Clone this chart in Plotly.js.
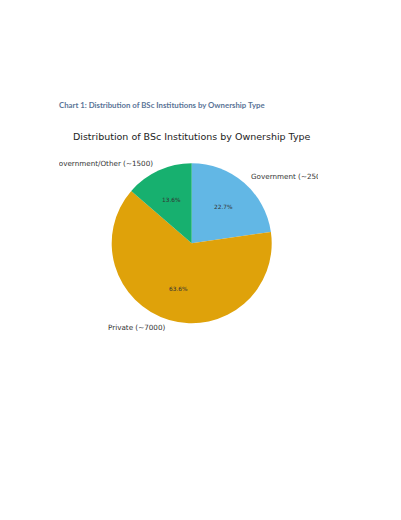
<!DOCTYPE html>
<html>
<head>
    <meta charset="UTF-8">
    <title>BSc Institutions by Ownership</title>
    <script src="https://cdn.plot.ly/plotly-3.0.1.min.js"></script>
    <style>
    body {
      margin: 0;
      background-color: #ffffff;
      width: 401px;
      height: 520px;
      position: relative;
      overflow: hidden;
    }
    .doc-heading {
      position: absolute;
      left: 59px;
      top: 100px;
      font-family: Lato, 'Open Sans', sans-serif;
      font-weight: bold;
      font-size: 7.8px;
      color: #5a7497;
      white-space: nowrap;
    }
    #chart {
      position: absolute;
      left: 59px;
      top: 120px;
      width: 259px;
      height: 220px;
    }
  </style>
</head>
<body>

    <div class="doc-heading">Chart 1: Distribution of BSc Institutions by Ownership Type</div>
    <div id="chart"></div>

    <script>
        // data
        var labels = ['Government (~2500)', 'Private (~7000)', 'Non-Government/Other (~1500)'];
        var values = [2500, 7000, 1500];
        var colors = ['#62b7e5', '#dfa20a', '#17b06f'];

        // figure geometry (px, inside #chart)
        var W = 259, H = 220;
        var cx = 132.7, cy = 123.3, r = 80;

        var trace = {
            type: 'pie',
            labels: labels,
            values: values,
            sort: false,
            direction: 'clockwise',
            rotation: 0,
            textinfo: 'none',
            hoverinfo: 'label+percent',
            marker: { colors: colors, line: { width: 0 } },
            domain: {
                x: [(cx - r) / W, (cx + r) / W],
                y: [(H - cy - r) / H, (H - cy + r) / H]
            },
            showlegend: false
        };

        // matplotlib style labels: name at 1.1r, percent at 0.6r
        var total = values.reduce((a, b) => a + b, 0);
        var annotations = [];
        var start = 90;
        values.forEach((v, i) => {
            var span = v / total * 360;
            var mid = (start - span / 2) * Math.PI / 180;
            start -= span;
            var cosA = Math.cos(mid), sinA = Math.sin(mid);
            annotations.push({
                x: (cx + 1.1 * r * cosA) / W,
                y: (H - cy + 1.1 * r * sinA) / H,
                xref: 'paper', yref: 'paper',
                text: labels[i],
                showarrow: false,
                xanchor: cosA >= 0 ? 'left' : 'right',
                yanchor: 'middle',
                font: { family: 'DejaVu Sans', size: 7.2, color: '#333333' }
            });
            annotations.push({
                x: (cx + 0.6 * r * cosA) / W,
                y: (H - cy + 0.6 * r * sinA) / H,
                xref: 'paper', yref: 'paper',
                text: (v / total * 100).toFixed(1) + '%',
                showarrow: false,
                xanchor: 'center',
                yanchor: 'middle',
                font: { family: 'DejaVu Sans', size: 5.8, color: '#333333' }
            });
        });

        var layout = {
            width: W,
            height: H,
            title: {
                text: 'Distribution of BSc Institutions by Ownership Type',
                font: { family: 'DejaVu Sans', size: 9.5, color: '#222222' },
                x: (132.7) / W, xanchor: 'center',
                y: 1 - 17 / H, yanchor: 'middle'
            },
            margin: { t: 0, l: 0, r: 0, b: 0 },
            paper_bgcolor: '#ffffff',
            annotations: annotations
        };

        Plotly.newPlot('chart', [trace], layout, { displayModeBar: false, staticPlot: true });
    </script>
</body>
</html>
